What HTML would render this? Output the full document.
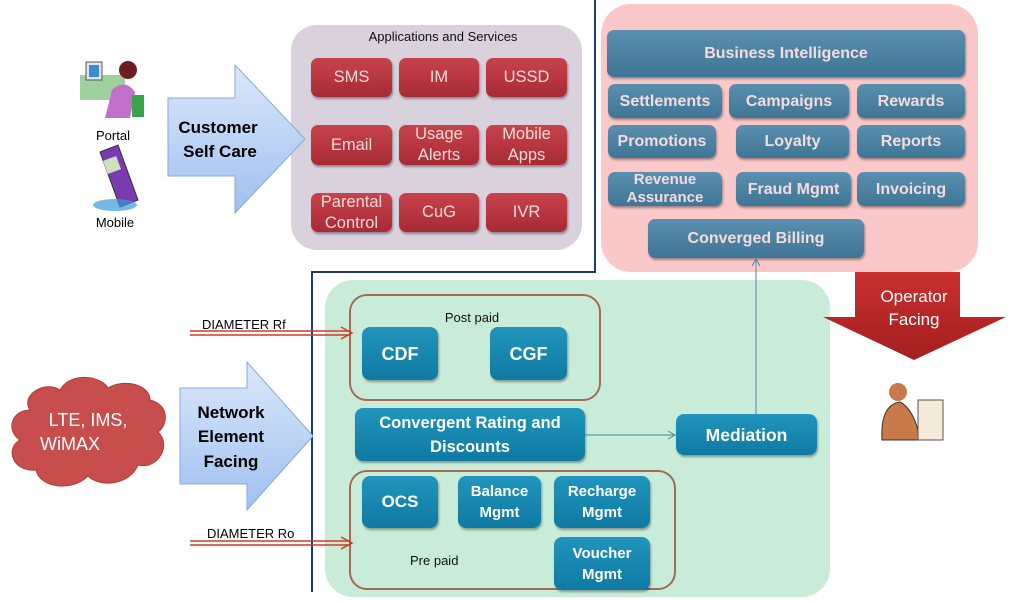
<!DOCTYPE html>
<html><head><meta charset="utf-8"><style>
body{margin:0;width:1014px;height:601px;background:#fff;position:relative;overflow:hidden;font-family:"Liberation Sans",sans-serif}
.a{position:absolute;box-sizing:border-box}
.r{background:linear-gradient(#c8434c,#a72a35);border-radius:7px;color:#f3dada;font-size:16.5px;display:flex;align-items:center;justify-content:center;text-align:center;line-height:21px;box-shadow:1px 2px 2px rgba(0,0,0,.35)}
.b{background:linear-gradient(#5a8fae,#3f7595);border-radius:7px;color:#f3dce0;font-size:16px;font-weight:bold;display:flex;align-items:center;justify-content:center;text-align:center;line-height:21px;box-shadow:1px 2px 2px rgba(0,0,0,.35)}
.g{background:linear-gradient(#2195bd,#0f7aa3);border-radius:8px;color:#fff;font-size:17px;font-weight:bold;display:flex;align-items:center;justify-content:center;text-align:center;line-height:24px;box-shadow:1px 2px 2px rgba(0,0,0,.35)}
.t{font-size:13px;color:#111}
</style></head><body>
<div class="a" style="left:291px;top:25px;width:291px;height:225px;background:#d9d1dc;border-radius:26px"></div>
<div class="a t" style="left:291px;top:29px;width:304px;text-align:center">Applications and Services</div>
<div class="a r" style="left:311px;top:58px;width:81px;height:39px">SMS</div>
<div class="a r" style="left:399px;top:58px;width:80px;height:39px">IM</div>
<div class="a r" style="left:486px;top:58px;width:81px;height:39px">USSD</div>
<div class="a r" style="left:311px;top:125px;width:81px;height:40px">Email</div>
<div class="a r" style="left:399px;top:125px;width:80px;height:40px">Usage<br>Alerts</div>
<div class="a r" style="left:486px;top:125px;width:81px;height:40px">Mobile<br>Apps</div>
<div class="a r" style="left:311px;top:193px;width:81px;height:39px">Parental<br>Control</div>
<div class="a r" style="left:399px;top:193px;width:80px;height:39px">CuG</div>
<div class="a r" style="left:486px;top:193px;width:81px;height:39px">IVR</div>

<div class="a" style="left:601px;top:4px;width:377px;height:268px;background:#fac8c9;border-radius:30px"></div>
<div class="a b" style="left:607px;top:30px;width:358px;height:47px">Business Intelligence</div>
<div class="a b" style="left:608px;top:84px;width:114px;height:34px">Settlements</div>
<div class="a b" style="left:729px;top:84px;width:120px;height:34px">Campaigns</div>
<div class="a b" style="left:857px;top:84px;width:108px;height:34px">Rewards</div>
<div class="a b" style="left:608px;top:125px;width:108px;height:33px">Promotions</div>
<div class="a b" style="left:736px;top:125px;width:113px;height:33px">Loyalty</div>
<div class="a b" style="left:857px;top:125px;width:108px;height:33px">Reports</div>
<div class="a b" style="left:608px;top:172px;width:114px;height:34px;line-height:18px;font-size:15px">Revenue<br>Assurance</div>
<div class="a b" style="left:736px;top:172px;width:115px;height:34px">Fraud Mgmt</div>
<div class="a b" style="left:857px;top:172px;width:108px;height:34px">Invoicing</div>
<div class="a b" style="left:648px;top:219px;width:216px;height:39px">Converged Billing</div>

<div class="a" style="left:325px;top:280px;width:505px;height:317px;background:#c9ecd9;border-radius:28px"></div>
<div class="a" style="left:349px;top:294px;width:252px;height:107px;border:2px solid #a46a55;border-radius:18px"></div>
<div class="a t" style="left:349px;top:310px;width:246px;text-align:center;font-size:13px">Post paid</div>
<div class="a g" style="left:362px;top:327px;width:76px;height:53px;font-size:18px">CDF</div>
<div class="a g" style="left:490px;top:327px;width:77px;height:53px;font-size:18px">CGF</div>
<div class="a g" style="left:355px;top:408px;width:230px;height:53px;font-size:16.5px">Convergent Rating and<br>Discounts</div>
<div class="a g" style="left:676px;top:414px;width:141px;height:41px;font-size:17.5px">Mediation</div>
<div class="a" style="left:349px;top:470px;width:327px;height:120px;border:2px solid #a46a55;border-radius:18px"></div>
<div class="a g" style="left:362px;top:476px;width:76px;height:52px">OCS</div>
<div class="a g" style="left:458px;top:476px;width:83px;height:52px;font-size:15px;line-height:21px">Balance<br>Mgmt</div>
<div class="a g" style="left:554px;top:476px;width:96px;height:52px;font-size:15px;line-height:21px">Recharge<br>Mgmt</div>
<div class="a g" style="left:554px;top:537px;width:96px;height:53px;font-size:15px;line-height:21px">Voucher<br>Mgmt</div>
<div class="a t" style="left:410px;top:553px">Pre paid</div>

<svg class="a" style="left:0;top:0" width="1014" height="601">
<defs>
<linearGradient id="bl" x1="0" y1="0" x2="0" y2="1"><stop offset="0" stop-color="#dbe8fb"/><stop offset="1" stop-color="#9fc0ef"/></linearGradient>
<linearGradient id="rd" x1="0" y1="0" x2="0" y2="1"><stop offset="0" stop-color="#c9302f"/><stop offset="1" stop-color="#a51e1e"/></linearGradient>
</defs>
<path d="M595 0V272H312V592" fill="none" stroke="#1f3a7a" stroke-width="2"/>
<path d="M168 98H235V65L305 139L235 213V176H168Z" fill="url(#bl)" stroke="#8aa9d6"/>
<path d="M180 388H247V362L313 436L247 510V484H180Z" fill="url(#bl)" stroke="#8aa9d6"/>
<path d="M855 272H960V317H1006L914 360L823 317H855Z" fill="url(#rd)"/>
<path d="M585 435H674" stroke="#3f8a9a" stroke-width="1"/><path d="M668 431L675 435L668 439" fill="none" stroke="#3f8a9a"/>
<path d="M756 414V260" stroke="#5a7fa0" stroke-width="1"/><path d="M752 266L756 259L760 266" fill="none" stroke="#5a7fa0"/>
<g stroke="#d23a2a" stroke-width="1.5" fill="none">
<path d="M190 331H350M190 335H350"/><path d="M341 327L352 333L341 339"/>
<path d="M190 541H350M190 545H350"/><path d="M341 537L352 543L341 549"/>
</g>
<path d="M30 410C20 395 45 380 60 390C70 372 100 375 108 388C125 378 150 385 150 400C170 405 168 425 158 432C172 445 158 470 138 465C130 485 100 488 88 476C72 492 40 488 36 470C12 472 5 448 20 440C5 430 12 410 30 410Z" fill="#c84d4d" stroke="#b03a3a"/>
<text x="88" y="426" fill="#fff" font-size="18" text-anchor="middle" font-family="Liberation Sans">LTE, IMS,</text>
<text x="70" y="450" fill="#fff" font-size="18" text-anchor="middle" font-family="Liberation Sans">WiMAX</text>
<text x="218" y="133" font-size="17" font-weight="bold" text-anchor="middle" font-family="Liberation Sans">Customer</text>
<text x="220" y="157" font-size="17" font-weight="bold" text-anchor="middle" font-family="Liberation Sans">Self Care</text>
<text x="231" y="418" font-size="17" font-weight="bold" text-anchor="middle" font-family="Liberation Sans">Network</text>
<text x="231" y="442" font-size="17" font-weight="bold" text-anchor="middle" font-family="Liberation Sans">Element</text>
<text x="231" y="467" font-size="17" font-weight="bold" text-anchor="middle" font-family="Liberation Sans">Facing</text>
<text x="914" y="302" fill="#fff" font-size="17" text-anchor="middle" font-family="Liberation Sans">Operator</text>
<text x="914" y="325" fill="#fff" font-size="17" text-anchor="middle" font-family="Liberation Sans">Facing</text>
<text x="202" y="329" font-size="13" font-family="Liberation Sans">DIAMETER Rf</text>
<text x="207" y="538" font-size="13" font-family="Liberation Sans">DIAMETER Ro</text>
<text x="113" y="140" font-size="13" text-anchor="middle" font-family="Liberation Sans">Portal</text>
<text x="115" y="227" font-size="13" text-anchor="middle" font-family="Liberation Sans">Mobile</text>
<rect x="80" y="75" width="45" height="25" fill="#9fd0a0"/>
<rect x="86" y="62" width="16" height="18" fill="#dfe8f0" stroke="#555"/>
<rect x="89" y="65" width="10" height="12" fill="#3a8bd0"/>
<circle cx="128" cy="70" r="9" fill="#6b1f1f"/>
<path d="M112 90Q125 78 135 92L130 118H105Z" fill="#c070c8"/>
<path d="M132 95h12v22h-12z" fill="#3aa24a"/>
<path d="M100 152L118 145L138 200L120 207Z" fill="#7a3ab0" stroke="#333"/>
<rect x="105" y="158" width="14" height="14" fill="#cfe0c0" transform="rotate(-20 112 165)"/>
<ellipse cx="115" cy="205" rx="22" ry="6" fill="#3a9ad8" opacity=".7"/>
<circle cx="898" cy="392" r="9" fill="#c87a4a"/>
<path d="M882 440Q880 405 900 402Q915 410 920 440Z" fill="#c87a4a" stroke="#333"/>
<rect x="918" y="400" width="25" height="40" fill="#f5ead8" stroke="#555"/>
</svg>
</body></html>
